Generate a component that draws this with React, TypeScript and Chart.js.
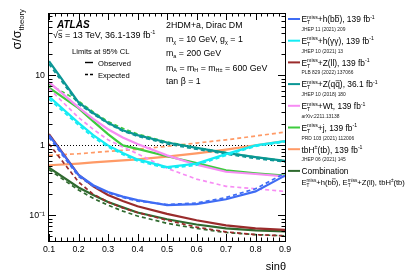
import React, { useEffect, useRef } from "react";
import { Chart, registerables } from "chart.js";

Chart.register(...registerables);

// ---------- data ----------
const sinTheta = [0.1, 0.2, 0.25, 0.3, 0.35, 0.4, 0.5, 0.6, 0.7, 0.8, 0.9];

const bbObs = [1.4, 0.38, 0.27, 0.215, 0.185, 0.165, 0.14, 0.145, 0.17, 0.22, 0.37];
const bbExp = [1.3, 0.36, 0.26, 0.21, 0.18, 0.16, 0.143, 0.15, 0.18, 0.24, 0.4];

const ggObs = [5.0, 2.1, 1.4, 1.0, 0.78, 0.63, 0.49, 0.55, 0.75, 1.0, 1.15];
const ggExp = [4.6, 1.95, 1.3, 0.95, 0.74, 0.6, 0.47, 0.52, 0.72, 0.97, 1.12];

const zllObs = [1.45, 0.38, 0.26, 0.195, 0.16, 0.135, 0.105, 0.085, 0.072, 0.065, 0.062];
const zllExp = [1.05, 0.3, 0.2, 0.155, 0.128, 0.11, 0.085, 0.068, 0.058, 0.053, 0.051];

const zqqObs = [16, 4.1, 2.9, 2.1, 1.65, 1.4, 1.1, 0.92, 0.78, 0.68, 0.6];
const zqqExp = [14.5, 3.9, 2.8, 2.05, 1.6, 1.35, 1.05, 0.88, 0.75, 0.65, 0.58];

const wtObs = [8, 3.5, 2.4, 1.7, 1.3, 1.05, 0.72, 0.53, 0.42, 0.39, 0.36];
const wtExp = [6.5, 2.5, 1.7, 1.2, 0.95, 0.76, 0.47, 0.33, 0.26, 0.24, 0.22];

const jObs = [6.7, 3.4, 2.2, 1.45, 1.0, 0.89, 0.7, 0.56, 0.44, 0.4, 0.37];
const jExp = [7.5, 4.3, 3.0, 2.2, 1.75, 1.45, 1.12, 0.93, 0.79, 0.68, 0.6];

const tbhObs = [0.52, 0.55, 0.57, 0.59, 0.61, 0.63, 0.69, 0.77, 0.87, 1.0, 1.15];
const tbhExp = [0.72, 0.76, 0.79, 0.82, 0.85, 0.88, 0.97, 1.08, 1.2, 1.36, 1.55];

const combObs = [0.48, 0.25, 0.195, 0.155, 0.13, 0.11, 0.088, 0.074, 0.065, 0.061, 0.059];
const combExp = [0.45, 0.23, 0.175, 0.14, 0.115, 0.098, 0.077, 0.065, 0.057, 0.053, 0.051];

const xTickValues = [0.1, 0.2, 0.3, 0.4, 0.5, 0.6, 0.7, 0.8, 0.9];
const xTickLabels = ["0.1", "0.2", "0.3", "0.4", "0.5", "0.6", "0.7", "0.8", "0.9"];
const yTickValues = [0.1, 1, 10];
const yTickLabels = ["10\u207B\u00B9", "1", "10"];

const legendRefs = [
  "JHEP 11 (2021) 209",
  "JHEP 10 (2021) 13",
  "PLB 829 (2022) 137066",
  "JHEP 10 (2018) 180",
  "arXiv:2211.13138",
  "PRD 103 (2021) 112006",
  "JHEP 06 (2021) 145",
  "",
];

// ---------- styles ----------
const FONT = '"Liberation Sans", Arimo, Arial, Helvetica, sans-serif';
const series = [
  { name: "bb", obs: bbObs, exp: bbExp, color: "#3f6cf4" },
  { name: "gg", obs: ggObs, exp: ggExp, color: "#14ecf4" },
  { name: "zll", obs: zllObs, exp: zllExp, color: "#9a2b2b" },
  { name: "zqq", obs: zqqObs, exp: zqqExp, color: "#0b9695" },
  { name: "wt", obs: wtObs, exp: wtExp, color: "#f78cf4" },
  { name: "j", obs: jObs, exp: jExp, color: "#3dcb3d" },
  { name: "tbh", obs: tbhObs, exp: tbhExp, color: "#ff9a66" },
  { name: "comb", obs: combObs, exp: combExp, color: "#2f6a2f" },
];

type Seg = { t?: string; sup?: string; sub?: string; over?: boolean };

function segWidth(ctx: CanvasRenderingContext2D, g: Seg, base: number) {
  if (g.sup !== undefined || g.sub !== undefined) {
    ctx.font = `${base * 0.62}px ${FONT}`;
    return Math.max(
      g.sup ? ctx.measureText(g.sup).width : 0,
      g.sub ? ctx.measureText(g.sub).width : 0
    );
  }
  ctx.font = `${base}px ${FONT}`;
  return ctx.measureText(g.t || "").width;
}
function richWidth(ctx: CanvasRenderingContext2D, segs: Seg[], base: number) {
  let w = 0;
  for (const g of segs) w += segWidth(ctx, g, base);
  return w;
}
function drawRich(ctx: CanvasRenderingContext2D, segs: Seg[], x: number, y: number, base: number) {
  let cx = x;
  for (const g of segs) {
    const w = segWidth(ctx, g, base);
    if (g.sup !== undefined || g.sub !== undefined) {
      if (g.sup) ctx.fillText(g.sup, cx, y - base * 0.42);
      if (g.sub) ctx.fillText(g.sub, cx, y + base * 0.22);
    } else {
      ctx.fillText(g.t || "", cx, y);
      if (g.over) {
        ctx.save();
        ctx.lineWidth = Math.max(0.6, base * 0.07);
        ctx.strokeStyle = ctx.fillStyle as string;
        ctx.beginPath();
        const oy = y - base * 0.8;
        ctx.moveTo(cx + base * 0.05, oy);
        ctx.lineTo(cx + w - base * 0.02, oy);
        ctx.stroke();
        ctx.restore();
      }
    }
    cx += w;
  }
  return cx - x;
}

const EMISS: Seg[] = [{ t: "E" }, { sup: "miss", sub: "T" }];
const legendTitles: Seg[][] = [
  [...EMISS, { t: "+h(b" }, { t: "b", over: true }, { t: "), 139 fb" }, { sup: "-1" }],
  [...EMISS, { t: "+h(\u03B3\u03B3), 139 fb" }, { sup: "-1" }],
  [...EMISS, { t: "+Z(ll), 139 fb" }, { sup: "-1" }],
  [...EMISS, { t: "+Z(q" }, { t: "q", over: true }, { t: "), 36.1 fb" }, { sup: "-1" }],
  [...EMISS, { t: "+Wt, 139 fb" }, { sup: "-1" }],
  [...EMISS, { t: "+j, 139 fb" }, { sup: "-1" }],
  [{ t: "tbH" }, { sup: "\u00B1" }, { t: "(tb), 139 fb" }, { sup: "-1" }],
  [{ t: "Combination" }],
];
const combLine: Seg[] = [
  ...EMISS, { t: "+h(b" }, { t: "b", over: true }, { t: "), " },
  ...EMISS, { t: "+Z(ll), tbH" }, { sup: "\u00B1" }, { t: "(tb)" },
];

const decoPlugin = {
  id: "deco",
  beforeDatasetsDraw(chart: any) {
    const { ctx, chartArea, scales } = chart;
    const y1 = Math.round(scales.y.getPixelForValue(1)) + 0.5;
    ctx.save();
    ctx.strokeStyle = "#000";
    ctx.lineWidth = 1;
    ctx.setLineDash([1, 2]);
    ctx.beginPath();
    ctx.moveTo(chartArea.left, y1);
    ctx.lineTo(chartArea.right, y1);
    ctx.stroke();
    ctx.restore();
  },
  afterDraw(chart: any) {
    const { ctx, chartArea, scales } = chart;
    const { left, right, top, bottom } = chartArea;
    const xs = scales.x;
    const ys = scales.y;
    ctx.save();
    // frame
    ctx.strokeStyle = "#000";
    ctx.lineWidth = 1;
    ctx.setLineDash([]);
    ctx.strokeRect(left - 0.5, top + 0.5, right - left + 1, bottom - top);
    // x ticks
    ctx.beginPath();
    for (let i = 0; i <= 40; i++) {
      const v = 0.1 + i * 0.02;
      const px = Math.round(xs.getPixelForValue(v)) + 0.5;
      const len = i % 5 === 0 ? 7 : 3.5;
      ctx.moveTo(px, bottom);
      ctx.lineTo(px, bottom - len);
      ctx.moveTo(px, top);
      ctx.lineTo(px, top + len);
    }
    // y ticks (log)
    for (let d = -2; d <= 1; d++) {
      for (let m = 1; m <= 9; m++) {
        const v = m * Math.pow(10, d);
        if (v < ys.min || v > ys.max) continue;
        const py = Math.round(ys.getPixelForValue(v)) + 0.5;
        const len = m === 1 ? 7 : 3.5;
        ctx.moveTo(left, py);
        ctx.lineTo(left + len, py);
        ctx.moveTo(right, py);
        ctx.lineTo(right - len, py);
      }
    }
    ctx.stroke();

    ctx.fillStyle = "#000";
    ctx.textBaseline = "alphabetic";
    ctx.textAlign = "left";

    // ATLAS label
    ctx.font = `italic bold 10px ${FONT}`;
    ctx.fillText("ATLAS", 57, 28);
    drawRich(ctx, [{ t: "\u221A" }, { t: "s", over: true }, { t: " = 13 TeV, 36.1-139 fb" }, { sup: "-1" }], 53, 37.5, 9);

    ctx.font = `7.6px ${FONT}`;
    ctx.fillText("Limits at 95% CL", 72, 54);
    ctx.fillText("Observed", 98, 65.5);
    ctx.fillText("Expected", 98, 77.5);
    ctx.lineWidth = 1.4;
    ctx.beginPath();
    ctx.moveTo(85, 62.5);
    ctx.lineTo(93, 62.5);
    ctx.stroke();
    ctx.setLineDash([3, 2]);
    ctx.beginPath();
    ctx.moveTo(85, 74.5);
    ctx.lineTo(93, 74.5);
    ctx.stroke();
    ctx.setLineDash([]);

    // model annotation
    const ax = 166;
    drawRich(ctx, [{ t: "2HDM+a, Dirac DM" }], ax, 28, 8.8);
    drawRich(ctx, [{ t: "m" }, { sub: "\u03C7" }, { t: " = 10 GeV, g" }, { sub: "\u03C7" }, { t: " = 1" }], ax, 42, 8.8);
    drawRich(ctx, [{ t: "m" }, { sub: "a" }, { t: " = 200 GeV" }], ax, 56, 8.8);
    drawRich(ctx, [{ t: "m" }, { sub: "A" }, { t: " = m" }, { sub: "H" }, { t: " = m" }, { sub: "H\u00B1" }, { t: " = 600 GeV" }], ax, 70.5, 8.8);
    drawRich(ctx, [{ t: "tan \u03B2 = 1" }], ax, 84, 8.8);

    // y title (rotated)
    ctx.save();
    ctx.translate(21, 9);
    ctx.rotate(-Math.PI / 2);
    const yt: Seg[] = [{ t: "\u03C3/\u03C3" }, { sub: "theory" }];
    const yw = richWidth(ctx, yt, 12.5);
    drawRich(ctx, yt, -yw, 0, 12.5);
    ctx.restore();

    // x title
    ctx.font = `11px ${FONT}`;
    ctx.textAlign = "right";
    ctx.fillText("sin\u03B8", right + 1, 270);
    ctx.textAlign = "left";

    // legend
    const lx0 = 288;
    const lx1 = 300;
    const tx = 301.5;
    for (let i = 0; i < series.length; i++) {
      const ly = 19 + i * 21.7;
      ctx.strokeStyle = series[i].color;
      ctx.lineWidth = 2;
      ctx.beginPath();
      ctx.moveTo(lx0, ly);
      ctx.lineTo(lx1, ly);
      ctx.stroke();
      ctx.fillStyle = "#000";
      drawRich(ctx, legendTitles[i], tx, ly + 3.3, 8.4);
      if (legendRefs[i]) {
        ctx.fillStyle = "#222";
        ctx.font = `4.9px ${FONT}`;
        ctx.fillText(legendRefs[i], tx, ly + 12);
      }
    }
    ctx.fillStyle = "#000";
    drawRich(ctx, combLine, tx, 19 + 7 * 21.7 + 14, 7.6);
    ctx.restore();
  },
};

export default function App() {
  const ref = useRef<HTMLCanvasElement | null>(null);
  useEffect(() => {
    document.body.style.margin = "0";
    const canvas = ref.current;
    if (!canvas) return;
    const datasets: any[] = [];
    for (const s of series) {
      datasets.push({
        label: s.name + " expected",
        data: sinTheta.map((x, i) => ({ x, y: s.exp[i] })),
        borderColor: s.color,
        borderWidth: 1.7,
        borderDash: [4, 3],
        pointRadius: 0,
        tension: 0,
        fill: false,
      });
      datasets.push({
        label: s.name + " observed",
        data: sinTheta.map((x, i) => ({ x, y: s.obs[i] })),
        borderColor: s.color,
        borderWidth: 2.2,
        pointRadius: 0,
        tension: 0,
        fill: false,
      });
    }
    const tickFont = { family: FONT, size: 8.8 };
    const chart = new Chart(canvas, {
      type: "line",
      data: { datasets },
      options: {
        responsive: false,
        animation: false,
        devicePixelRatio: 1,
        layout: { padding: { left: 0, right: 122, top: 13, bottom: 0 } },
        plugins: { legend: { display: false }, tooltip: { enabled: false } },
        scales: {
          x: {
            type: "linear",
            min: 0.1,
            max: 0.9,
            grid: { display: false, drawTicks: false },
            border: { display: false },
            ticks: {
              font: tickFont,
              color: "#000",
              padding: 3,
              maxRotation: 0,
              autoSkip: false,
              callback: (_v: any, i: number) => xTickLabels[i],
            },
            afterBuildTicks: (s: any) => {
              s.ticks = xTickValues.map((v) => ({ value: v }));
            },
            afterFit: (s: any) => {
              s.height = 34;
            },
          },
          y: {
            type: "logarithmic",
            min: 0.043,
            max: 78,
            grid: { display: false, drawTicks: false },
            border: { display: false },
            ticks: {
              font: tickFont,
              color: "#000",
              padding: 4,
              autoSkip: false,
              callback: (_v: any, i: number) => yTickLabels[i],
            },
            afterBuildTicks: (s: any) => {
              s.ticks = yTickValues.map((v) => ({ value: v, major: true }));
            },
            afterFit: (s: any) => {
              s.width = 49;
            },
          },
        },
      } as any,
      plugins: [decoPlugin],
    });
    return () => chart.destroy();
  }, []);
  return (
    <div style={{ position: "fixed", left: 0, top: 0, width: 407, height: 275, background: "#fff" }}>
      <canvas ref={ref} width={407} height={275} />
    </div>
  );
}
